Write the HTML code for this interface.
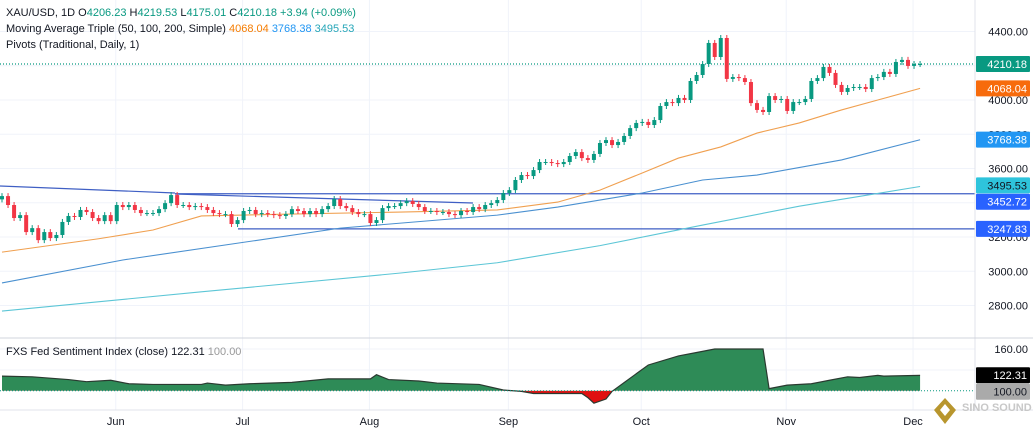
<!DOCTYPE html>
<html><head><meta charset="utf-8"><style>
html,body{margin:0;padding:0;background:#fff;width:1033px;height:433px;overflow:hidden}
svg{display:block;font-family:"Liberation Sans",sans-serif}
</style></head><body>
<svg id="c" width="1033" height="433" xmlns="http://www.w3.org/2000/svg">
<g id="grid"></g>
<g id="lines"></g>
<g id="ma"></g>
<g id="candles"></g>
<g id="sent"></g>
<g id="axis"></g>
<g font-size="11">
<text x="6" y="16" fill="#131722">XAU/USD, 1D <tspan fill="#131722">O</tspan><tspan fill="#089981">4206.23</tspan> <tspan fill="#131722">H</tspan><tspan fill="#089981">4219.53</tspan> <tspan fill="#131722">L</tspan><tspan fill="#089981">4175.01</tspan> <tspan fill="#131722">C</tspan><tspan fill="#089981">4210.18 +3.94 (+0.09%)</tspan></text>
<text x="6" y="32" fill="#131722">Moving Average Triple (50, 100, 200, Simple) <tspan fill="#f57c00">4068.04</tspan> <tspan fill="#2196f3">3768.38</tspan> <tspan fill="#26a6b8">3495.53</tspan></text>
<text x="6" y="48" fill="#131722">Pivots (Traditional, Daily, 1)</text>
<text x="6" y="355" fill="#131722">FXS Fed Sentiment Index (close) 122.31 <tspan fill="#999">100.00</tspan></text>
</g>
<g>
<polygon points="945,398 956,410 945,424 934,410" fill="#b8962e"/>
<polygon points="945,404 950,410 945,416 940,410" fill="#fff"/>
<text x="962" y="411" font-size="11" font-weight="bold" fill="#c8c8c8">SINO SOUND</text>
</g>
</svg>
<script>
const closes=[3439,3387,3311,3328,3229,3252,3182,3229,3194,3212,3288,3323,3317,3358,3346,3311,3293,3328,3293,3387,3375,3387,3358,3340,3340,3340,3363,3398,3445,3387,3387,3375,3381,3375,3358,3340,3334,3334,3276,3299,3352,3358,3334,3340,3334,3328,3323,3334,3363,3352,3334,3352,3334,3363,3381,3422,3381,3369,3346,3334,3334,3282,3299,3369,3381,3381,3398,3410,3393,3375,3352,3352,3346,3346,3334,3328,3352,3346,3375,3363,3387,3398,3416,3457,3474,3533,3562,3556,3591,3638,3638,3632,3626,3638,3673,3696,3661,3650,3685,3749,3766,3737,3755,3790,3836,3866,3872,3854,3883,3965,3988,3982,4012,4000,4111,4146,4210,4333,4251,4362,4123,4134,4128,4105,3982,3942,3930,4023,4000,4006,3936,3988,3988,4006,4111,4128,4193,4158,4088,4047,4070,4076,4076,4064,4128,4134,4164,4152,4222,4234,4199,4210,4210];
const firstOpen=3420;
const ma50Idx=[0,16,25,33,49,66,82,92,99,106,112,119,125,132,139,145,152];
const ma50Val=[3112,3190,3241,3323,3335,3346,3358,3404,3474,3574,3661,3726,3807,3866,3942,4000,4068];
const ma100Idx=[0,20,56,82,92,106,116,125,139,152];
const ma100Val=[2932,3066,3252,3328,3375,3457,3533,3562,3650,3768];
const ma200Idx=[0,33,66,82,99,116,132,152];
const ma200Val=[2768,2880,2990,3050,3150,3270,3380,3495];
const sentIdx=[0,5,11,14,18,21,25,33,34,37,41,48,54,61,62,64,69,72,79,83,86,88,96,97,98,100,101,104,107,112,115,118,126,127,130,134,137,140,142,145,146,152];
const sentVal=[121,120,116,113,115,110,109,109,111,108,110,112,117,117,123,116,114,111,109,101,99,96,96,90,82,88,99,118,137,150,155,160,160,103,108,110,115,120,119,122,121,122];
const priceTicks=[4400,4000,3800,3600,3200,3000,2800];
const gridPrices=[4400,4200,4000,3800,3600,3400,3200,3000,2800];
const months=["Jun","Jul","Aug","Sep","Oct","Nov","Dec"];
const monthIdx=[19,40,61,84,106,130,151];
const ns="http://www.w3.org/2000/svg";
const X=i=>2+i*6.04;
const Y=p=>100-(p-4000)*0.1713;
const SY=v=>390.7-(v-100)*0.695;
function mk(tag,attrs,parent){const e=document.createElementNS(ns,tag);for(const k in attrs)e.setAttribute(k,attrs[k]);parent.appendChild(e);return e;}
const grid=document.getElementById('grid');
gridPrices.forEach(p=>{const l=mk('line',{x1:0,x2:975,y1:Y(p),y2:Y(p),stroke:'#f0f3fa'},grid);

});
monthIdx.forEach(i=>{const l=mk('line',{x1:X(i)-1,x2:X(i)-1,y1:0,y2:410,stroke:'#f0f3fa'},grid);

});
[349,370].forEach(y=>{mk('line',{x1:0,x2:975,y1:y,y2:y,stroke:'#f0f3fa'},grid);});
const ax=document.getElementById('axis');
mk('line',{x1:975,x2:975,y1:0,y2:410,stroke:'#e0e3eb'},ax);
mk('line',{x1:0,x2:1033,y1:338,y2:338,stroke:'#d1d4dc'},ax);
mk('line',{x1:0,x2:1033,y1:410,y2:410,stroke:'#e0e3eb'},ax);
priceTicks.forEach(p=>{const t=mk('text',{x:1028,y:Y(p)+4,'font-size':11,fill:'#131722','text-anchor':'end'},ax);t.textContent=p.toFixed(2);

});
months.forEach((m,k)=>{const t=mk('text',{x:X(monthIdx[k])-1,y:425,'font-size':11,fill:'#131722','text-anchor':'middle'},ax);t.textContent=m;

});
const t160=mk('text',{x:1028,y:SY(160)+4,'font-size':11,fill:'#131722','text-anchor':'end'},ax);t160.textContent='160.00';
const ln=document.getElementById('lines');
function line(x1,y1,x2,y2,c,name,dash){const l=mk('line',{x1,y1,x2,y2,stroke:c,'stroke-width':1.2},ln);if(dash)l.setAttribute('stroke-dasharray',dash);

}
line(0,186,175,193,'#3f5fc4','trendline-upper');
line(175,Y(3452.72),975,Y(3452.72),'#3f5fc4','pivot-3452');
line(175,194,473,203,'#3f5fc4','trendline-lower');
line(238,Y(3247.83),975,Y(3247.83),'#3f5fc4','pivot-3247');
line(0,Y(4210.18),975,Y(4210.18),'#089981','last-price-line','1,2');
const maG=document.getElementById('ma');
function maLine(idx,val,c,name){const p=mk('polyline',{points:idx.map((i,k)=>X(i)+','+Y(val[k])).join(' '),fill:'none',stroke:c,'stroke-width':1.1},maG);

}
maLine(ma50Idx,ma50Val,'#f0a050','ma-50');
maLine(ma100Idx,ma100Val,'#4a90d0','ma-100');
maLine(ma200Idx,ma200Val,'#5cc6d6','ma-200');
const cg=document.getElementById('candles');
closes.forEach((c,i)=>{const o=i?closes[i-1]:firstOpen;const up=c>=o;const col=up?'#089981':'#f23645';
const top=Y(Math.max(o,c)),bot=Y(Math.min(o,c));
const w=mk('line',{x1:X(i),x2:X(i),y1:top-3,y2:bot+3,stroke:col},cg);


const r=mk('rect',{x:X(i)-2,y:top,width:4,height:Math.max(1,bot-top),fill:col},cg);

});
const sg=document.getElementById('sent');
const defs=mk('defs',{},sg);
const ca=mk('clipPath',{id:'above'},defs);mk('rect',{x:0,y:330,width:975,height:SY(100)-330},ca);
const cb=mk('clipPath',{id:'below'},defs);mk('rect',{x:0,y:SY(100),width:975,height:30},cb);
const pts=sentIdx.map((i,k)=>X(i)+','+SY(sentVal[k])).join(' ');
const area=pts+' '+X(sentIdx[sentIdx.length-1])+','+SY(100)+' '+X(0)+','+SY(100);
const ga=mk('polygon',{points:area,fill:'#2e8b57','clip-path':'url(#above)'},sg);


const gb=mk('polygon',{points:area,fill:'#e01010','clip-path':'url(#below)'},sg);


const sl=mk('polyline',{points:pts,fill:'none',stroke:'#2a3a30','stroke-width':1.2},sg);


mk('line',{x1:0,x2:975,y1:SY(100),y2:SY(100),stroke:'#089981','stroke-dasharray':'1,2'},sg);
function tag(y,txt,bg,fg,name){const g=mk('g',{},ax);


mk('rect',{x:976,y:y-8,width:54,height:16,fill:bg,rx:1},g);const t=mk('text',{x:1027,y:y+4,'font-size':11,fill:fg,'text-anchor':'end'},g);t.textContent=txt;}
tag(Y(4210.18),'4210.18','#089981','#fff','last-price-label');
tag(Y(4068.04),'4068.04','#f76b0c','#fff','ma50-label');
tag(Y(3768.38),'3768.38','#2196f3','#fff','ma100-label');
tag(Y(3495.53)-1,'3495.53','#2ec4dc','#131722','ma200-label');
tag(Y(3452.72)+8,'3452.72','#2962ff','#fff','pivot-label-3452');
tag(Y(3247.83),'3247.83','#2962ff','#fff','pivot-label-3247');
tag(SY(122.31),'122.31','#000','#fff','sentiment-value-label');
tag(SY(100)+1,'100.00','#aaa','#131722','sentiment-base-label');
</script>
</body></html>
